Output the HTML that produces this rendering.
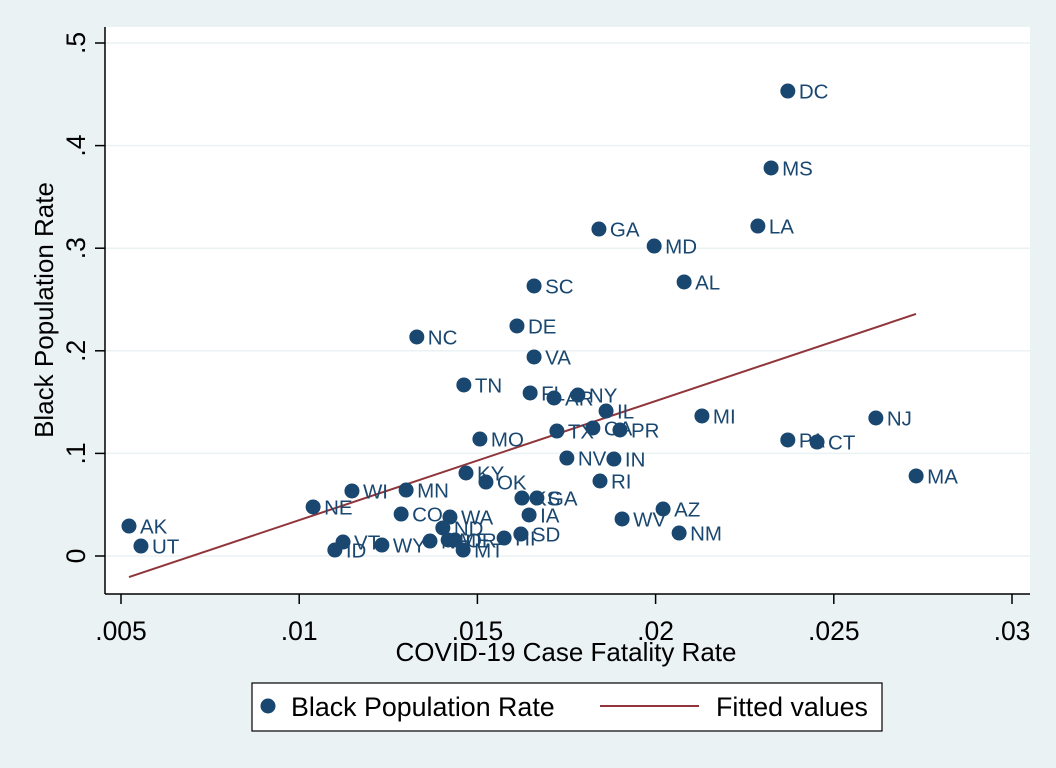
<!DOCTYPE html>
<html><head><meta charset="utf-8"><style>
html,body{margin:0;padding:0;background:#eaf2f3;}
svg{display:block;font-family:"Liberation Sans",Arial,sans-serif;}
</style></head><body>
<svg id="chart" width="1056" height="768">
<rect x="0" y="0" width="1056" height="768" fill="#eaf2f3"/>
<rect x="105" y="27" width="925" height="567" fill="#ffffff"/>
<g id="grid"></g>
<g id="fit"></g>
<g id="pts"></g>
<line x1="105" y1="27" x2="105" y2="594" stroke="#000" stroke-width="1.5"/>
<line x1="105" y1="594" x2="1030" y2="594" stroke="#000" stroke-width="1.5"/>
<g id="ticks"></g>
<text x="566" y="661" font-size="26" text-anchor="middle" fill="#000">COVID-19 Case Fatality Rate</text>
<text transform="translate(53,310) rotate(-90)" font-size="26" text-anchor="middle" fill="#000">Black Population Rate</text>
<g>
<rect x="252" y="683" width="630" height="48" fill="#fff" stroke="#000" stroke-width="1.2"/>
<circle cx="268" cy="706" r="7.5" fill="#1a476f"/>
<text x="291" y="716" font-size="26.8" fill="#000">Black Population Rate</text>
<line x1="600" y1="706" x2="699" y2="706" stroke="#90353b" stroke-width="2"/>
<text x="716" y="716" font-size="26.8" fill="#000">Fitted values</text>
</g>
</svg>
<script>
const states = ["DC","MS","LA","GA","MD","AL","SC","DE","NC","VA","TN","FL","AR","NY","IL","MI","NJ","PA","CT","MA","TX","CA","PR","MO","NV","IN","RI","KY","OK","WI","MN","NE","KS","GA","IA","AZ","WV","NM","CO","WA","ND","SD","HI","AK","UT","VT","ID","WY","NH","ME","OR","MT"];
const cfr = [.02371,.02324,.02287,.01841,.01996,.0208,.01659,.01611,.0133,.01659,.01462,.01648,.01715,.01782,.01861,.0213,.02618,.02371,.02453,.02731,.01723,.01824,.019,.01507,.01751,.01883,.01844,.01468,.01524,.01148,.013,.01039,.01625,.01667,.01645,.02021,.01906,.02066,.01286,.01423,.01403,.01622,.01575,.005224,.00556,.01123,.011,.01232,.01367,.01418,.01437,.0146];
const black = [.4532,.3782,.3216,.3187,.3021,.2671,.2632,.2242,.2135,.194,.1667,.1589,.154,.1569,.1413,.1365,.1345,.1131,.1111,.078,.1218,.1248,.1228,.114,.0955,.0945,.0731,.0809,.0721,.0634,.0643,.0478,.0565,.0565,.04,.0458,.0361,.0224,.0409,.038,.0273,.0214,.0175,.0292,.0097,.0136,.0058,.0107,.0146,.0156,.0156,.0058];
const fitX = [.005224,.027306];
const fitY = [-.0205,.2359];
const xTicks = [.005,.01,.015,.02,.025,.03];
const xTickLabels = [".005",".01",".015",".02",".025",".03"];
const yTicks = [0,.1,.2,.3,.4,.5];
const yTickLabels = ["0",".1",".2",".3",".4",".5"];

const NS = "http://www.w3.org/2000/svg";
function sx(v){return 121 + (v-.005)*35640;}
function sy(v){return 556 - v*1026;}
function mk(tag, attrs, parent){const e=document.createElementNS(NS,tag);for(const k in attrs)e.setAttribute(k,attrs[k]);document.getElementById(parent).appendChild(e);return e;}

yTicks.forEach((v,i)=>{
  const g = mk("line",{x1:105,x2:1030,y1:sy(v),y2:sy(v),stroke:"#eaf2f3","stroke-width":1.5},"grid");
  
  
  const t = mk("line",{x1:95,x2:105,y1:sy(v),y2:sy(v),stroke:"#000","stroke-width":1.5},"ticks");
  
  
  const l = mk("text",{transform:`translate(${85},${sy(v)}) rotate(-90)`,"font-size":26.5,"text-anchor":"middle",fill:"#000"},"ticks");
  l.textContent = yTickLabels[i];
  
  
});
xTicks.forEach((v,i)=>{
  const t = mk("line",{x1:sx(v),x2:sx(v),y1:594,y2:604,stroke:"#000","stroke-width":1.5},"ticks");
  
  
  const l = mk("text",{x:sx(v),y:640,"font-size":26.5,"text-anchor":"middle",fill:"#000"},"ticks");
  l.textContent = xTickLabels[i];
  
  
});
const fl = mk("line",{x1:sx(fitX[0]),y1:sy(fitY[0]),x2:sx(fitX[1]),y2:sy(fitY[1]),stroke:"#90353b","stroke-width":2},"fit");


states.forEach((s,i)=>{
  const c = mk("circle",{cx:sx(cfr[i]),cy:sy(black[i]),r:7.5,fill:"#1a476f"},"pts");
  
  
  const t = mk("text",{x:sx(cfr[i])+11,y:sy(black[i])+7.5,"font-size":20.5,fill:"#1a476f"},"pts");
  t.textContent = s;
  
  
});
</script>
</body></html>
